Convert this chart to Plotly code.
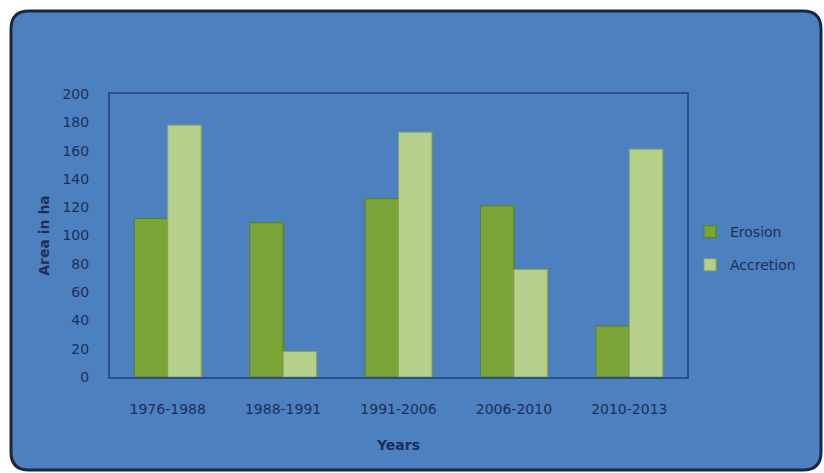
import plotly.graph_objects as go

categories = ["1976-1988", "1988-1991", "1991-2006", "2006-2010", "2010-2013"]
erosion = [112, 109, 126, 121, 36]
accretion = [178, 18, 173, 76, 161]
y_ticks = [0, 20, 40, 60, 80, 100, 120, 140, 160, 180, 200]

W, H = 824, 473
L, R, T, B = 110, 137, 94, 96
pw, ph = W - L - R, H - T - B

def px(x):
    return (x - L) / pw

def py(y):
    return (H - B - y) / ph

text_col = "#1c2f5a"
font_fam = "DejaVu Sans"

fig = go.Figure()
fig.add_trace(go.Bar(
    x=categories, y=erosion, name="Erosion", legendgroup="e",
    marker=dict(color="#7aa436", line=dict(color="#5a7f24", width=1)),
))
fig.add_trace(go.Bar(
    x=categories, y=accretion, name="Accretion", legendgroup="a",
    marker=dict(color="#b6d08b", line=dict(color="#8aa563", width=1)),
))

# rounded blue panel behind everything
x0, x1, y0, y1 = px(11), px(821), py(11), py(470)
rx, ry = 18 / pw, 18 / ph
path = (f"M {x0+rx},{y0} L {x1-rx},{y0} Q {x1},{y0} {x1},{y0-ry} "
        f"L {x1},{y1+ry} Q {x1},{y1} {x1-rx},{y1} "
        f"L {x0+rx},{y1} Q {x0},{y1} {x0},{y1+ry} "
        f"L {x0},{y0-ry} Q {x0},{y0} {x0+rx},{y0} Z")

fig.update_layout(
    width=W, height=H,
    margin=dict(l=L, r=R, t=T, b=B),
    paper_bgcolor="white",
    plot_bgcolor="white",
    barmode="group",
    bargap=0.42,
    bargroupgap=0,
    font=dict(family=font_fam, size=14, color=text_col),
    shapes=[dict(type="path", path=path, xref="paper", yref="paper",
                 fillcolor="#4d80be", line=dict(color="#1b2640", width=3),
                 layer="below")],
    legend=dict(x=px(690), y=py(216), xanchor="left", yanchor="top",
                bgcolor="rgba(0,0,0,0)", tracegroupgap=12,
                font=dict(family=font_fam, size=14, color=text_col)),
    xaxis=dict(
        showgrid=False, showline=True, linecolor="#2c4f86", linewidth=2,
        mirror=True, ticks="", ticklabelstandoff=18,
        tickfont=dict(family=font_fam, size=14, color=text_col),
        title=dict(text="<b>Years</b>", standoff=24,
                   font=dict(family=font_fam, size=14, color=text_col)),
    ),
    yaxis=dict(
        range=[0, 200], tickvals=y_ticks, showgrid=False,
        showline=True, linecolor="#2c4f86", linewidth=2, mirror=True,
        ticks="", ticklabelstandoff=16, zeroline=False,
        tickfont=dict(family=font_fam, size=14, color=text_col),
        title=dict(text="<b>Area in ha</b>", standoff=10,
                   font=dict(family=font_fam, size=14, color=text_col)),
    ),
)

fig.write_html("out.html")
